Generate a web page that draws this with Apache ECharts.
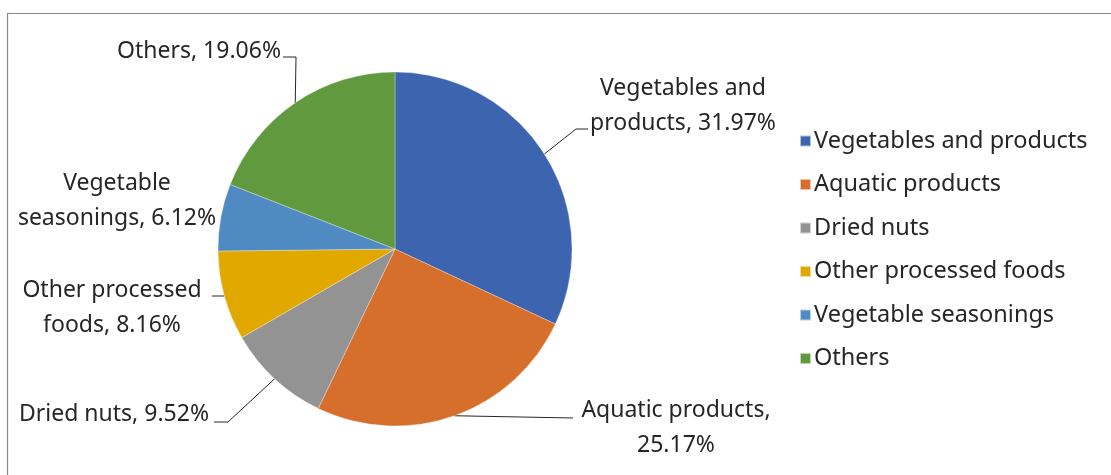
<!DOCTYPE html>
<html><head><meta charset="utf-8">
<script src="https://cdn.jsdelivr.net/npm/echarts@6/dist/echarts.min.js"></script>
<style>html,body{margin:0;padding:0;background:#fff}#c{width:1111px;height:475px}</style>
</head><body><div id="c"></div>
<script>
const categories = ["Vegetables and products","Aquatic products","Dried nuts","Other processed foods","Vegetable seasonings","Others"];
const values = [31.97, 25.17, 9.52, 8.16, 6.12, 19.06];
const labelNames = ["Vegetables and\nproducts","Aquatic products,\n","Dried nuts","Other processed\nfoods","Vegetable\nseasonings","Others"];
const colors = ["#3D64AE","#D56F2B","#939393","#E1A900","#4F8BC2","#619A3E"];

// label placement (layout only)
const labelPos = [
  {x:683, y:106, align:'center', bend:[576,129], end:[588,129]},
  {x:676, y:428, align:'center', bend:[573,418], end:[573,418]},
  {x:209, y:414, align:'right',  bend:[228,422], end:[214,422]},
  {x:112, y:308, align:'center', bend:[223,296], end:[212,296]},
  {x:117, y:201, align:'center', bend:null, end:null},
  {x:281, y:51,  align:'right',  bend:[296,57], end:[283,57]}
];
const FONT = '"Noto Sans", sans-serif';
const chart = echarts.init(document.getElementById('c'));
chart.setOption({
  backgroundColor:'#fff',
  animation:false,
  color: colors,
  graphic:[{type:'rect', shape:{x:7.5,y:13.5,width:1300,height:700}, style:{fill:'none', stroke:'#898989', lineWidth:1.2}, silent:true}],
  legend:{
    orient:'vertical', left:794, top:123,
    icon:'rect', itemWidth:11, itemHeight:11, itemGap:17.5,
    textStyle:{fontSize:23.5, color:'#262626', fontFamily:FONT, lineHeight:26, padding:[0,0,0,-2]},
    data: categories
  },
  series:[{
    type:'pie', center:[395,249], radius:177, startAngle:90, clockwise:true,
    itemStyle:{borderColor:'rgba(255,255,255,0.6)', borderWidth:0.5},
    data: categories.map((n,i)=>({name:n, value:values[i]})),
    label:{
      show:true, position:'outside', fontSize:23, fontFamily:FONT, color:'#262626', lineHeight:35,
      overflow:'none', width:400,
      formatter: p => {
        const ln = labelNames[p.dataIndex];
        if (ln.endsWith('\n')) return ln + p.value.toFixed(2) + '%';
        return ln + ', ' + p.value.toFixed(2) + '%';
      }
    },
    labelLine:{show:true, lineStyle:{color:'#262626', width:1}},
    labelLayout: params => {
      const lp = labelPos[params.dataIndex];
      const start = params.labelLinePoints ? params.labelLinePoints[0] : [0,0];
      let pts;
      if (lp.bend) pts = [start, lp.bend, lp.end];
      else pts = [start, start, start];
      return {x:lp.x, y:lp.y, align:lp.align, verticalAlign:'middle', labelLinePoints:pts};
    },
    emphasis:{disabled:true}
  }]
});
</script></body></html>
